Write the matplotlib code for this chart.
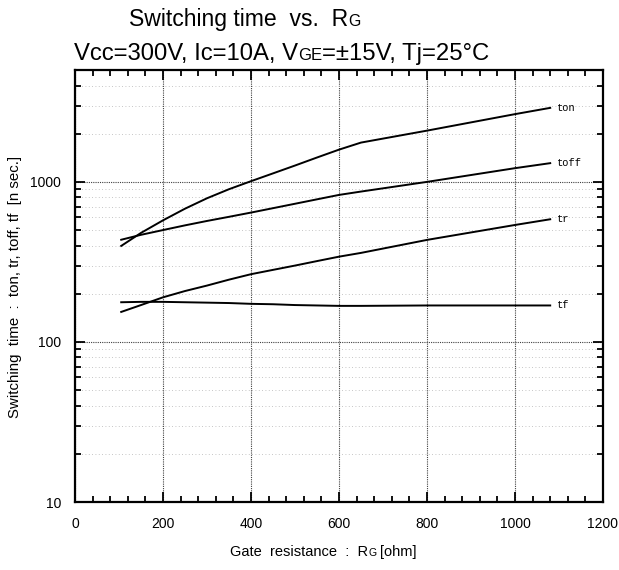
import matplotlib
matplotlib.use('Agg')

import numpy as np
import matplotlib.pyplot as plt
from matplotlib.ticker import LogLocator, MultipleLocator, FixedLocator, NullFormatter

plt.rcParams['font.family'] = ['Liberation Sans', 'DejaVu Sans']

# Gate resistance [ohm] and switching times [n sec.]
rg = [105, 150, 200, 250, 300, 350, 400, 450, 500, 550, 600, 650, 800, 1000, 1080]
ton = [398, 480, 575, 680, 790, 900, 1010, 1130, 1265, 1420, 1590, 1760, 2090, 2650, 2900]
toff = [435, 467, 500, 535, 570, 605, 643, 685, 730, 778, 829, 870, 1000, 1218, 1309]
tr = [154, 170, 190, 208, 225, 245, 265, 282, 300, 320, 341, 360, 434, 538, 584]
tf = [177, 178, 178, 177, 176, 175, 173, 172, 170, 169, 168, 168, 169, 169, 169]
names = ['ton', 'toff', 'tr', 'tf']

W, H = 619, 570
fig = plt.figure(figsize=(W / 100, H / 100), dpi=100)
ax = fig.add_axes([75 / W, 1 - 502 / H, (603 - 75) / W, (502 - 70) / H])

for series, name in zip([ton, toff, tr, tf], names):
    ax.plot(rg, series, color='black', lw=1.4)
    ax.text(rg[-1] + 15, series[-1], name, family='Liberation Mono',
            fontsize=7.5, va='center', ha='left')

ax.set_xlim(0, 1200)
ax.set_yscale('log')
ax.set_ylim(10, 5000)

ax.xaxis.set_major_locator(MultipleLocator(200))
ax.xaxis.set_minor_locator(MultipleLocator(40))
ax.yaxis.set_major_locator(FixedLocator([10, 100, 1000]))
ax.yaxis.set_minor_locator(LogLocator(base=10, subs=np.arange(2, 10)))
ax.yaxis.set_minor_formatter(NullFormatter())
ax.set_yticklabels(['10', '100', '1000'])

ax.tick_params(which='both', direction='in', top=True, right=True,
               labelsize=10, width=1.3)
ax.tick_params(axis='x', pad=11)
ax.tick_params(axis='y', pad=10)
ax.tick_params(which='major', length=7)
ax.tick_params(which='minor', length=4)

for s in ax.spines.values():
    s.set_linewidth(1.6)

ax.grid(which='major', color='0.25', linestyle=(0, (1, 1)), lw=0.8)
ax.grid(which='minor', axis='y', color='0.7', linestyle=(0, (1, 3)), lw=0.6)

fig.text(15 / W, 1 - 287 / H, 'Switching  time  :  ton, tr, toff, tf  [n sec.]',
         fontsize=10.8, rotation=90, ha='center', va='center')

renderer = fig.canvas.get_renderer()


def put_pieces(x_px, y_px, pieces):
    x = x_px
    for s, size, gap in pieces:
        x += gap
        t = fig.text(x / W, 1 - y_px / H, s, fontsize=size, va='baseline', ha='left')
        x += t.get_window_extent(renderer).width


put_pieces(129, 26, [('Switching time  vs.  R', 16.6, 0), ('G', 11.4, 0)])
put_pieces(74, 60, [('Vcc=300V, Ic=10A, V', 17.2, 0), ('GE', 12, 0),
                    ('=\u00b115V, Tj=25\u00b0C', 17.2, 0)])
put_pieces(230, 556, [('Gate  resistance  :  R', 10.5, 0), ('G', 7.5, 0), ('[ohm]', 10.5, 4)])

fig.savefig('out.png', dpi=100)
